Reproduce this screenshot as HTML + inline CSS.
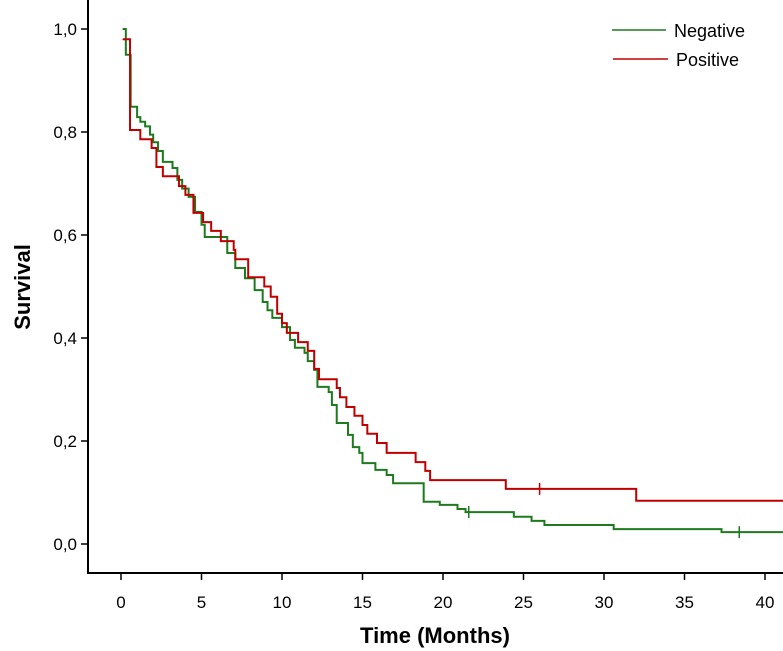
<!DOCTYPE html>
<html><head><meta charset="utf-8"><style>
html,body{margin:0;padding:0;background:#fff;overflow:hidden;}
svg{display:block;font-family:"Liberation Sans",Arial,sans-serif;}
</style></head><body>
<svg id="chart" width="783" height="651">
<g id="axes"></g><g id="series"></g>
<g>
<line x1="612" y1="30" x2="666" y2="30" stroke="#1e7a1e" stroke-width="1.5"/>
<text x="674" y="37" font-size="18" fill="#000">Negative</text>
<line x1="613" y1="59" x2="668" y2="59" stroke="#c00000" stroke-width="1.5"/>
<text x="676" y="66" font-size="18" fill="#000">Positive</text>
</g>
<text x="435" y="643" font-size="22" font-weight="bold" text-anchor="middle">Time (Months)</text>
<text transform="translate(30,287) rotate(-90)" font-size="22" font-weight="bold" text-anchor="middle">Survival</text>
</svg>
<script>
const xTicks=[0,5,10,15,20,25,30,35,40];
const yTicks=[0,0.2,0.4,0.6,0.8,1.0];
const yTickLabels=["0,0","0,2","0,4","0,6","0,8","1,0"];
const endTime=43;
const negTimes=[0.1,0.3,0.6,1.0,1.2,1.5,1.8,2.0,2.3,2.6,3.2,3.5,3.8,4.2,4.6,5.0,5.2,6.6,7.1,7.7,8.3,8.8,9.1,9.4,10.0,10.5,10.8,11.4,11.6,12.0,12.2,12.9,13.1,13.4,14.1,14.4,14.8,15.0,15.8,16.5,16.9,18.8,19.8,20.9,21.4,24.4,25.5,26.3,30.6,37.3];
const negSurv=[1.0,0.95,0.849,0.829,0.82,0.811,0.795,0.78,0.763,0.742,0.73,0.707,0.69,0.674,0.645,0.62,0.596,0.565,0.536,0.516,0.493,0.47,0.454,0.439,0.421,0.396,0.381,0.371,0.355,0.338,0.305,0.295,0.27,0.235,0.212,0.188,0.177,0.157,0.144,0.134,0.118,0.082,0.076,0.068,0.062,0.053,0.045,0.037,0.029,0.023];
const negCensor=[[21.6,0.062],[38.4,0.023]];
const posTimes=[0.1,0.56,1.2,1.9,2.2,2.6,3.6,4.0,4.5,5.1,5.6,6.2,7.0,7.1,7.9,8.9,9.3,9.7,10.0,10.3,11.0,11.6,12.0,12.3,13.4,13.6,14.0,14.5,15.0,15.3,15.9,16.5,18.3,18.9,19.2,23.9,32.0];
const posSurv=[0.98,0.804,0.786,0.769,0.732,0.714,0.695,0.678,0.643,0.625,0.608,0.588,0.571,0.553,0.518,0.5,0.48,0.447,0.429,0.41,0.392,0.375,0.34,0.32,0.303,0.285,0.266,0.249,0.231,0.214,0.196,0.177,0.159,0.142,0.124,0.107,0.084];
const posCensor=[[26.0,0.107]];
const X=t=>121+t*16.1, Y=s=>544-s*515;
const NS="http://www.w3.org/2000/svg";
const axes=document.getElementById('axes'), ser=document.getElementById('series');
function mk(tag,attrs,parent){const e=document.createElementNS(NS,tag);for(const k in attrs)e.setAttribute(k,attrs[k]);parent.appendChild(e);return e;}
let p=mk('path',{d:'M88,0 V573 H783',fill:'none',stroke:'#000','stroke-width':2},axes);


xTicks.forEach(t=>{
 const l=mk('line',{x1:X(t),x2:X(t),y1:573,y2:580,stroke:'#000','stroke-width':1.5},axes);
 
 
 const tx=mk('text',{x:X(t),y:608,'font-size':17,'text-anchor':'middle'},axes);tx.textContent=t;
 
 
});
yTicks.forEach((v,i)=>{
 const l=mk('line',{x1:81,x2:88,y1:Y(v),y2:Y(v),stroke:'#000','stroke-width':1.5},axes);
 
 
 const tx=mk('text',{x:77,y:Y(v)+6,'font-size':17,'text-anchor':'end'},axes);tx.textContent=yTickLabels[i];
 
 
});
function step(times,surv,color,name,cens){
 let d='M'+X(times[0])+','+Y(surv[0]);
 const n=Math.min(times.length,surv.length);
 for(let i=1;i<n;i++){d+=' H'+X(times[i])+' V'+Y(surv[i]);}
 d+=' H'+X(endTime);
 const e=mk('path',{d:d,fill:'none',stroke:color,'stroke-width':2},ser);
 
 
 cens.forEach(c=>{
  const m=mk('line',{x1:X(c[0]),x2:X(c[0]),y1:Y(c[1])-6,y2:Y(c[1])+6,stroke:color,'stroke-width':1.5},ser);
  
  
 });
}
step(negTimes,negSurv,'#1e7a1e','negative-curve',negCensor);
step(posTimes,posSurv,'#c00000','positive-curve',posCensor);
</script>
</body></html>
